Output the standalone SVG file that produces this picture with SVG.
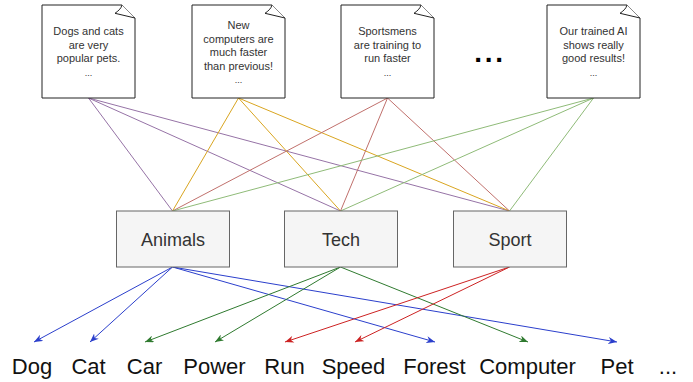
<svg xmlns="http://www.w3.org/2000/svg" width="693" height="382" viewBox="0 0 693 382">
<style>
.doc path{fill:#fff;stroke:#222;stroke-width:1}
.doc text{font-family:"Liberation Sans",Arial,sans-serif;font-size:11px;fill:#333;text-anchor:middle}
.doc .dots{font-size:9px}
.cat rect{fill:#f5f5f5;stroke:#666;stroke-width:1}
.cat text{font-family:"Liberation Sans",Arial,sans-serif;font-size:18px;fill:#333;text-anchor:middle}
.word text{font-family:"Liberation Sans",Arial,sans-serif;font-size:22px;fill:#111;text-anchor:middle}
.links line{stroke-width:1;fill:none}
.p{stroke:#9673a6}
.o{stroke:#d9a520}
.r{stroke:#c0706c}
.g{stroke:#8fbb78}
.b{stroke:#2b3fcc;marker-end:url(#ab)}
.gr{stroke:#2f7a2f;marker-end:url(#ag)}
.rd{stroke:#cc2222;marker-end:url(#ar)}
</style>
<defs>
<marker id="ab" viewBox="0 0 10 8" refX="10" refY="4" markerWidth="9" markerHeight="7" markerUnits="userSpaceOnUse" orient="auto"><path d="M0,0 L10,4 L0,8 L3,4 Z" fill="#2b3fcc"/></marker>
<marker id="ag" viewBox="0 0 10 8" refX="10" refY="4" markerWidth="9" markerHeight="7" markerUnits="userSpaceOnUse" orient="auto"><path d="M0,0 L10,4 L0,8 L3,4 Z" fill="#2f7a2f"/></marker>
<marker id="ar" viewBox="0 0 10 8" refX="10" refY="4" markerWidth="9" markerHeight="7" markerUnits="userSpaceOnUse" orient="auto"><path d="M0,0 L10,4 L0,8 L3,4 Z" fill="#cc2222"/></marker>
</defs>

<g id="connectors" class="links">
<line class="p" x1="88.5" y1="98" x2="172.5" y2="211"/>
<line class="p" x1="88.5" y1="98" x2="340.5" y2="211"/>
<line class="p" x1="88.5" y1="98" x2="509.5" y2="211"/>
<line class="o" x1="238.5" y1="98" x2="172.5" y2="211"/>
<line class="o" x1="238.5" y1="98" x2="340.5" y2="211"/>
<line class="o" x1="238.5" y1="98" x2="509.5" y2="211"/>
<line class="r" x1="387.5" y1="98" x2="172.5" y2="211"/>
<line class="r" x1="387.5" y1="98" x2="340.5" y2="211"/>
<line class="r" x1="387.5" y1="98" x2="509.5" y2="211"/>
<line class="g" x1="593.5" y1="98" x2="172.5" y2="211"/>
<line class="g" x1="593.5" y1="98" x2="340.5" y2="211"/>
<line class="g" x1="593.5" y1="98" x2="509.5" y2="211"/>
<line class="b" x1="172.5" y1="267" x2="34" y2="342"/>
<line class="b" x1="172.5" y1="267" x2="90" y2="342"/>
<line class="b" x1="172.5" y1="267" x2="435" y2="342"/>
<line class="b" x1="172.5" y1="267" x2="617" y2="342"/>
<line class="gr" x1="340.5" y1="267" x2="145" y2="342"/>
<line class="gr" x1="340.5" y1="267" x2="215" y2="342"/>
<line class="gr" x1="340.5" y1="267" x2="528" y2="342"/>
<line class="rd" x1="509.5" y1="267" x2="285" y2="342"/>
<line class="rd" x1="509.5" y1="267" x2="355" y2="342"/>
</g>

<g id="doc1" class="doc" transform="translate(42,5)">
<path d="M0,0 H80 L93,13 V93 H0 Z"/>
<path d="M80,0 C79,4 76,6 73,8.3 L93,13"/>
<text x="46.5" y="30">Dogs and cats</text>
<text x="46.5" y="43.5">are very</text>
<text x="46.5" y="57">popular pets.</text>
<text class="dots" x="46.5" y="71">...</text>
</g>
<g id="doc2" class="doc" transform="translate(192,5)">
<path d="M0,0 H80 L93,13 V93 H0 Z"/>
<path d="M80,0 C79,4 76,6 73,8.3 L93,13"/>
<text x="46.5" y="24">New</text>
<text x="46.5" y="37.5">computers are</text>
<text x="46.5" y="51">much faster</text>
<text x="46.5" y="64.5">than previous!</text>
<text class="dots" x="46.5" y="78">...</text>
</g>
<g id="doc3" class="doc" transform="translate(341,5)">
<path d="M0,0 H80 L93,13 V93 H0 Z"/>
<path d="M80,0 C79,4 76,6 73,8.3 L93,13"/>
<text x="46.5" y="30">Sportsmens</text>
<text x="46.5" y="43.5">are training to</text>
<text x="46.5" y="57">run faster</text>
<text class="dots" x="46.5" y="71">...</text>
</g>
<g id="more">
<text x="490" y="62" font-family="Liberation Sans,Arial,sans-serif" font-size="28" font-weight="bold" letter-spacing="2.7" text-anchor="middle" fill="#000">...</text>
</g>
<g id="doc4" class="doc" transform="translate(547,5)">
<path d="M0,0 H80 L93,13 V93 H0 Z"/>
<path d="M80,0 C79,4 76,6 73,8.3 L93,13"/>
<text x="46.5" y="30">Our trained AI</text>
<text x="46.5" y="43.5">shows really</text>
<text x="46.5" y="57">good results!</text>
<text class="dots" x="46.5" y="71">...</text>
</g>

<g id="animals" class="cat"><rect x="116.5" y="211" width="113" height="56"/><text x="173" y="246">Animals</text></g>
<g id="tech" class="cat"><rect x="284.5" y="211" width="113" height="56"/><text x="341" y="246">Tech</text></g>
<g id="sport" class="cat"><rect x="453.5" y="211" width="113" height="56"/><text x="510" y="246">Sport</text></g>

<g id="w-dog" class="word"><text x="32" y="374">Dog</text></g>
<g id="w-cat" class="word"><text x="88.5" y="374">Cat</text></g>
<g id="w-car" class="word"><text x="144.5" y="374">Car</text></g>
<g id="w-power" class="word"><text x="214.5" y="374">Power</text></g>
<g id="w-run" class="word"><text x="284.5" y="374">Run</text></g>
<g id="w-speed" class="word"><text x="353.5" y="374">Speed</text></g>
<g id="w-forest" class="word"><text x="434.5" y="374">Forest</text></g>
<g id="w-computer" class="word"><text x="527.5" y="374">Computer</text></g>
<g id="w-pet" class="word"><text x="617" y="374">Pet</text></g>
<g id="w-more" class="word"><text x="668" y="374">...</text></g>
</svg>
